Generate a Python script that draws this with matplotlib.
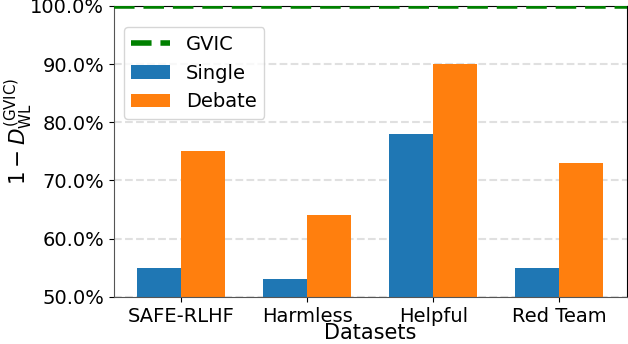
import matplotlib
matplotlib.use("Agg")
import matplotlib.pyplot as plt
import numpy as np
from matplotlib.ticker import FuncFormatter

datasets = ["SAFE-RLHF", "Harmless", "Helpful", "Red Team"]
single = [55, 53, 78, 55]
debate = [75, 64, 90, 73]
gvic = 100

x = np.arange(len(datasets))
w = 0.35

fig, ax = plt.subplots(figsize=(6.28, 3.44), dpi=100)
ax.axhline(gvic, color="green", linestyle="--", linewidth=4, label="GVIC", zorder=3)
ax.bar(x - w / 2, single, w, color="#1f77b4", label="Single", zorder=2)
ax.bar(x + w / 2, debate, w, color="#ff7f0e", label="Debate", zorder=2)

ax.set_ylim(50, 100)
ax.set_xticks(x)
ax.set_xticklabels(datasets, fontsize=14)
ax.tick_params(axis="y", labelsize=14)
ax.yaxis.set_major_formatter(FuncFormatter(lambda v, p: f"{v:.1f}%"))
ax.set_xlabel("Datasets", fontsize=15, labelpad=-2)
ax.set_ylabel(r"$1 - D_{\mathrm{WL}}^{(\mathrm{GVIC})}$", fontsize=15.5)
ax.yaxis.set_label_coords(-0.155, 0.57)
ax.yaxis.grid(True, linestyle="--", color="#e0e0e0", linewidth=1.5, zorder=0)
ax.set_axisbelow(True)
ax.legend(loc="upper left", bbox_to_anchor=(0.0, 0.96), fontsize=14)
for s in ["left", "bottom"]:
    ax.spines[s].set_color("#555555")

fig.subplots_adjust(left=0.1815, right=0.998, top=0.983, bottom=0.137)
fig.savefig("out.png")
